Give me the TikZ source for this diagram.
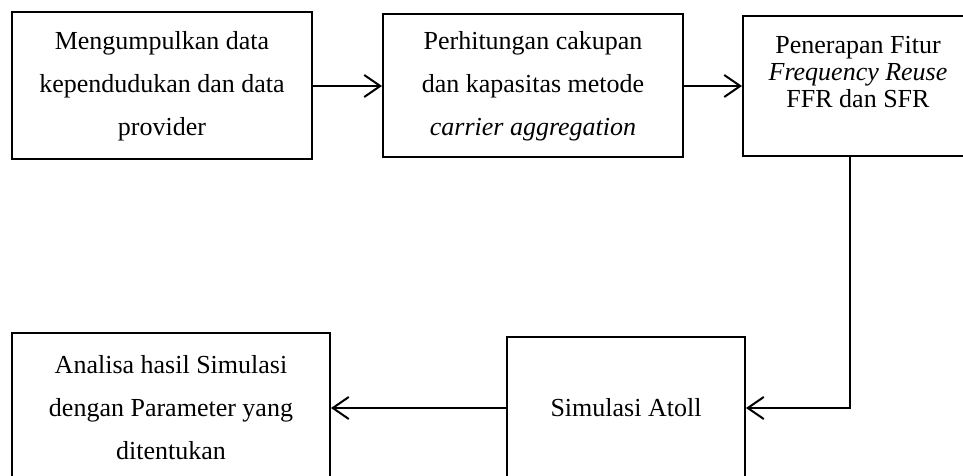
\documentclass[tikz,border=0pt]{standalone}
\usepackage{fontspec}
\setmainfont{Liberation Serif}
\usetikzlibrary{arrows.meta,positioning}
\tikzset{stepbox/.style={draw, line width=2pt, align=center, inner sep=0pt,
                         font=\fontsize{26}{43}\selectfont},
         flow/.style={line width=2pt,
                      -{Straight Barb[length=16pt,width=22pt,line width=2pt]}}}
\begin{document}
\begin{tikzpicture}[x=1pt,y=1pt]
  \useasboundingbox (0,0) rectangle (963,476);
  \node[stepbox, minimum width=300pt, minimum height=147pt] (collect) at (162,390)
    {Mengumpulkan data\\kependudukan dan data\\provider};
  \node[stepbox, minimum width=300pt, minimum height=143pt] (coverage) at (533,390)
    {Perhitungan cakupan\\dan kapasitas metode\\\textit{carrier aggregation}};
  \node[stepbox, minimum width=230pt, minimum height=140pt] (feature) at (858,390) {};
  \node[below=18pt of feature.north, align=center,
        font=\fontsize{26}{27}\selectfont] (featuretext)
    {Penerapan Fitur\\\textit{Frequency Reuse}\\FFR dan SFR};
  \node[stepbox, minimum width=238pt, minimum height=142pt] (atoll) at (626,68)
    {Simulasi Atoll};
  \node[stepbox, minimum width=318pt, minimum height=150pt] (analysis) at (171,68)
    {Analisa hasil Simulasi\\dengan Parameter yang\\ditentukan};
  \draw[flow] (collect.east) -- (coverage.west);
  \draw[flow] (coverage.east) -- (feature.west);
  \draw[flow] ([xshift=-8pt]feature.south) |- (atoll.east);
  \draw[flow] (atoll.west) -- (analysis.east);
\end{tikzpicture}
\end{document}
